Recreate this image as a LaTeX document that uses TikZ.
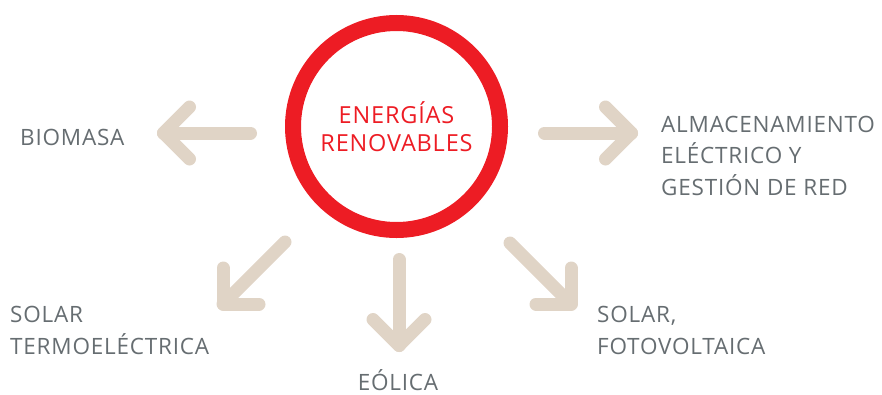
\documentclass[tikz,border=0pt]{standalone}
\usepackage{fontspec}
\setmainfont{Open Sans}[LetterSpace=3.5]
\definecolor{rojo}{HTML}{ED1C24}
\definecolor{beige}{HTML}{E0D4C6}
\definecolor{gris}{HTML}{666D71}

\begin{document}
\begin{tikzpicture}[x=1pt,y=-1pt,
  flecha/.style={beige,line width=13pt,line cap=round,line join=round},
  etiqueta/.style={gris,font=\fontsize{22.5}{31.5}\selectfont,anchor=base west,inner sep=0pt,align=left}]
\useasboundingbox (0,0) rectangle (882,394);
\node[circle,draw=rojo,line width=16pt,minimum size=207pt,inner sep=0pt,text=rojo,align=center,font=\fontsize{23.5}{28}\selectfont] (centro) at (396.5,126.5) {ENERGÍAS\\RENOVABLES};

\node[etiqueta] (biomasa) at (20,145) {BIOMASA};
\node[etiqueta] (almacen) at (661,195) {ALMACENAMIENTO\\ELÉCTRICO Y\\GESTIÓN DE RED};
\node[etiqueta] (termo) at (10,354) {SOLAR\\TERMOELÉCTRICA};
\node[etiqueta] (foto) at (597,354) {SOLAR,\\FOTOVOLTAICA};
\node[etiqueta,anchor=base] (eolica) at (398,390) {EÓLICA};

\coordinate (izq0) at (250.5,133); \coordinate (izq1) at (163.5,133);
\coordinate (der0) at (544.5,133); \coordinate (der1) at (631.5,133);
\coordinate (aba0) at (399,259.5); \coordinate (aba1) at (399,345.5);
\coordinate (ai0) at (285,242);    \coordinate (ai1) at (223,304);
\coordinate (ad0) at (510,243);    \coordinate (ad1) at (571,304);

\draw[flecha] (izq0) -- (izq1);
\draw[flecha] ([shift={(26,-26)}]izq1) -- (izq1) -- ([shift={(26,26)}]izq1);
\draw[flecha] (der0) -- (der1);
\draw[flecha] ([shift={(-26,-26)}]der1) -- (der1) -- ([shift={(-26,26)}]der1);
\draw[flecha] (aba0) -- (aba1);
\draw[flecha] ([shift={(-26,-26)}]aba1) -- (aba1) -- ([shift={(26,-26)}]aba1);
\draw[flecha] (ai0) -- (ai1);
\draw[flecha] ([shift={(0,-36)}]ai1) -- (ai1) -- ([shift={(36,0)}]ai1);
\draw[flecha] (ad0) -- (ad1);
\draw[flecha] ([shift={(0,-36)}]ad1) -- (ad1) -- ([shift={(-35,0)}]ad1);
\end{tikzpicture}
\end{document}
